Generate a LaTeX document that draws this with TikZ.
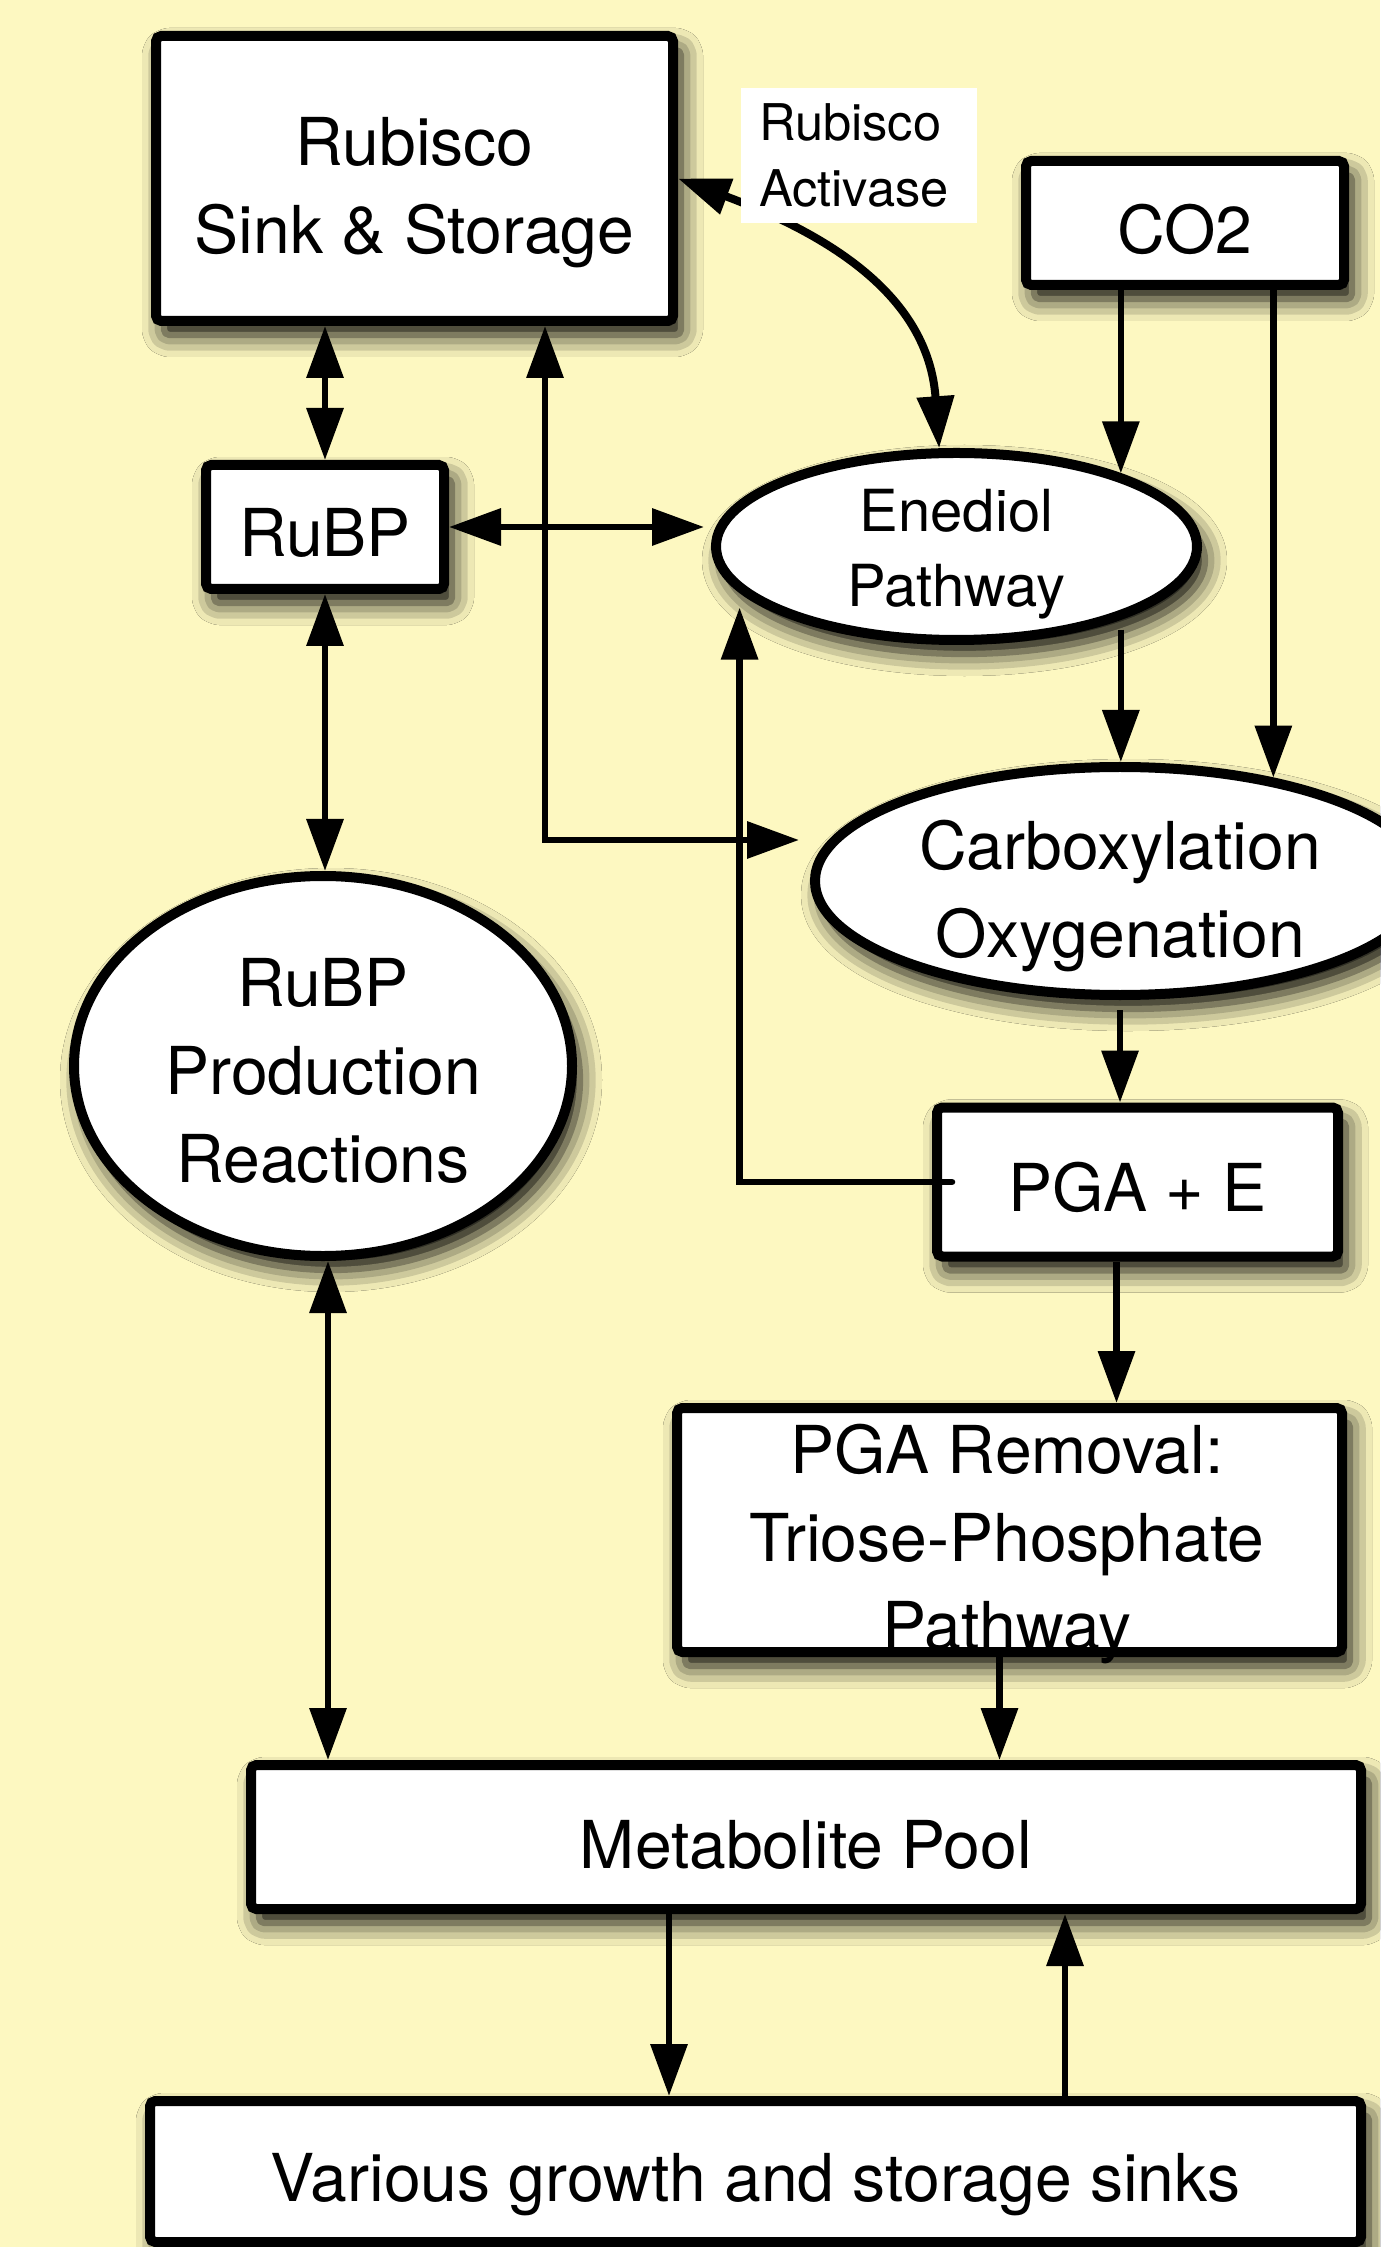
\documentclass[tikz,border=0pt]{standalone}
\usepackage{fontspec}
\setmainfont{TeX Gyre Heros}
\usepackage{tikz}
\usetikzlibrary{arrows.meta,shapes.geometric,shadows.blur}
\definecolor{bgyellow}{RGB}{253,248,193}
\newcommand{\bigfont}{\fontsize{18.8}{25}\selectfont}
\newcommand{\midfont}{\fontsize{16.5}{21.3}\selectfont}
\newcommand{\smallfont}{\fontsize{14.4}{19}\selectfont}

\begin{document}
\begin{tikzpicture}[
  softshadow/.style={blur shadow={shadow xshift=0.08cm,shadow yshift=-0.14cm,
    shadow blur radius=0.22cm,shadow opacity=100}},
  box/.style={draw,rectangle,rounded corners=1.5pt,line width=0.1cm,fill=white,
    inner sep=0pt,align=center,font=\bigfont,softshadow},
  oval/.style={draw,ellipse,line width=0.1cm,fill=white,inner sep=-2mm,
    align=center,font=\bigfont,softshadow},
  lower/.style={execute at begin node={\rule{0pt}{#1}}},
  arr/.style={line width=0.065cm,-{Triangle[length=0.52cm,width=0.36cm]}},
  dblarr/.style={line width=0.065cm,
    {Triangle[length=0.52cm,width=0.36cm]}-{Triangle[length=0.52cm,width=0.36cm]}}
  ]

% Background and page size
\fill[bgyellow] (0,0) rectangle (13.80,-22.47);
\useasboundingbox (0,0) rectangle (13.80,-22.47);

% Boxes and ovals
\node[box,lower=1.64cm,minimum width=5.17cm,minimum height=2.85cm] (rubisco)
  at (4.145,-1.785) {Rubisco\\Sink \& Storage};
\node[box,lower=0.62cm,minimum width=3.18cm,minimum height=1.24cm] (co2)
  at (11.85,-2.23) {CO2};
\node[box,lower=0.60cm,minimum width=2.38cm,minimum height=1.24cm] (rubp)
  at (3.25,-5.27) {RuBP};
\node[oval,lower=1.33cm,minimum width=4.81cm,minimum height=1.87cm,font=\midfont]
  (enediol) at (9.565,-5.465) {Enediol\\Pathway};
\node[oval,lower=1.67cm,minimum width=6.10cm,minimum height=2.28cm] (carbox)
  at (11.20,-8.81) {Carboxylation\\Oxygenation};
\node[oval,lower=2.34cm,minimum width=4.98cm,minimum height=3.80cm] (rubpprod)
  at (3.23,-10.66) {RuBP\\Production\\Reactions};
\node[box,lower=0.60cm,minimum width=4.01cm,minimum height=1.49cm] (pgae)
  at (11.375,-11.82) {PGA + E};
\node[box,minimum width=6.65cm,minimum height=2.44cm] (removal) at (10.095,-15.30) {};
\node[font=\bigfont,align=center] (removaltext) at (10.07,-15.44)
  {PGA Removal:\\Triose-Phosphate\\Pathway};
\node[box,lower=0.64cm,minimum width=11.10cm,minimum height=1.44cm] (metabolite)
  at (8.06,-18.37) {Metabolite Pool};
\node[box,lower=0.74cm,minimum width=12.11cm,minimum height=1.41cm] (sinks)
  at (7.555,-21.715) {Various growth and storage sinks};

% Rubisco activase link, under its label
\draw[dblarr,line width=0.08cm] (rubisco.east) .. controls (8.70,-2.50) and (9.30,-3.20)
  .. (enediol.100);
\node[fill=white,text width=2.0cm,inner xsep=0.18cm,minimum height=1.35cm,
  align=left,font=\smallfont] (activase) at (8.59,-1.555) {Rubisco\\Activase};

% Connectors
\coordinate (elbow) at (5.45,-8.40);
\draw[dblarr] (rubp.north) -- (rubp.north |- rubisco.south);
\draw[dblarr,shorten >=0.11cm] (elbow |- rubisco.south) -- (elbow) -- (elbow -| carbox.west);
\draw[dblarr,shorten >=0.07cm] (rubp.east) -- (rubp.east -| enediol.west);
\draw[arr] (enediol.24 |- co2.south) -- (enediol.24);
\draw[arr] (carbox.34 |- co2.south) -- (carbox.34);
\draw[arr,shorten <=0.1cm] (enediol.-24) -- (enediol.-24 |- carbox.north);
\draw[arr,shorten <=0.1cm] (carbox.south) -- (carbox.south |- pgae.north);
\draw[arr,line cap=round,shorten >=0.15cm] ([xshift=0.2cm]pgae.west)
  -- (pgae.west -| enediol.192) -- (enediol.192);
\draw[arr] ([xshift=-0.21cm]pgae.south) -- ([xshift=-0.21cm]pgae.south |- removal.north);
\draw[dblarr] (rubp.south) -- (rubp.south |- rubpprod.north);
\draw[dblarr] ([xshift=0.05cm]rubpprod.south) -- ([xshift=0.05cm]rubpprod.south |- metabolite.north);
\draw[arr] ([xshift=-0.1cm]removal.south) -- ([xshift=-0.1cm]removal.south |- metabolite.north);
\draw[arr] ([xshift=-1.37cm]metabolite.south) -- ([xshift=-1.37cm]metabolite.south |- sinks.north);
\draw[arr] ([xshift=2.59cm]metabolite.south |- sinks.north) -- ([xshift=2.59cm]metabolite.south);

\end{tikzpicture}
\end{document}
